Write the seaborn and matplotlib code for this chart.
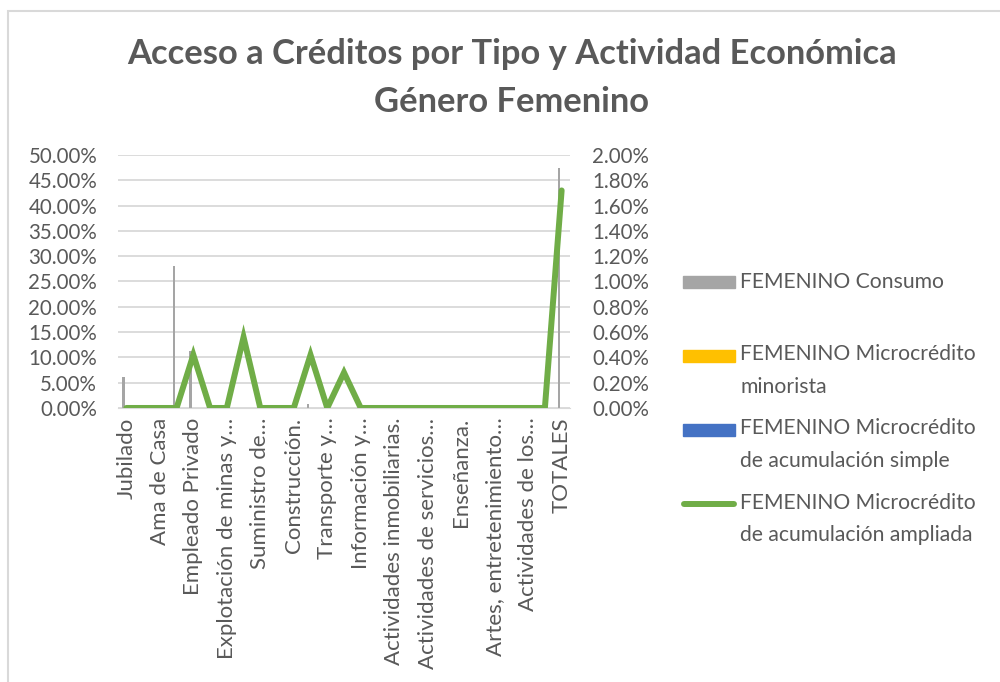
import numpy as np
import pandas as pd
import seaborn as sns
import matplotlib.pyplot as plt
from matplotlib.patches import Rectangle
from matplotlib.lines import Line2D
from matplotlib.ticker import PercentFormatter, MultipleLocator

# categories (only every other one is labelled on the axis)
categorias = [
    "Jubilado", "Estudiante", "Ama de Casa", "Empleado Público", "Empleado Privado",
    "Agricultura, ganadería, silvicultura y pesca.", "Explotación de minas y canteras.",
    "Industrias manufactureras.", "Suministro de electricidad, gas, vapor y aire acondicionado.",
    "Distribución de agua; alcantarillado, gestión de desechos.", "Construcción.",
    "Comercio al por mayor y al por menor.", "Transporte y almacenamiento.",
    "Actividades de alojamiento y de servicio de comidas.", "Información y comunicación.",
    "Actividades financieras y de seguros.", "Actividades inmobiliarias.",
    "Actividades profesionales, científicas y técnicas.",
    "Actividades de servicios administrativos y de apoyo.",
    "Administración pública y defensa.", "Enseñanza.",
    "Actividades de atención de la salud humana.",
    "Artes, entretenimiento y recreación.", "Otras actividades de servicios.",
    "Actividades de los hogares como empleadores.",
    "Actividades de organizaciones extraterritoriales.", "TOTALES",
]
etiquetas = [
    "Jubilado", "Ama de Casa", "Empleado Privado", "Explotación de minas y…",
    "Suministro de…", "Construcción.", "Transporte y…", "Información y…",
    "Actividades inmobiliarias.", "Actividades de servicios…", "Enseñanza.",
    "Artes, entretenimiento…", "Actividades de los…", "TOTALES",
]

# values in percent
consumo = [6.1, 0, 0, 28.0, 11.3, 0, 0, 0, 0, 0, 0, 0.8, 0, 0, 0, 0, 0, 0,
           0, 0, 0, 0, 0, 0, 0, 0, 47.4]
minorista = [0] * 27
simple = [0] * 27
ampliada = [0, 0, 0, 0, 0.42, 0, 0, 0.56, 0, 0, 0, 0.42, 0, 0.28, 0, 0, 0, 0,
            0, 0, 0, 0, 0, 0, 0, 0, 1.72]

series = ["FEMENINO Consumo", "FEMENINO Microcrédito minorista",
          "FEMENINO Microcrédito de acumulación simple"]
colores = ["#a5a5a5", "#ffc000", "#4472c4"]
verde = "#70ad47"
gris_txt = "#595959"

df = pd.DataFrame({
    "categoria": categorias * 3,
    "valor": consumo + minorista + simple,
    "serie": [series[0]] * 27 + [series[1]] * 27 + [series[2]] * 27,
})
df_linea = pd.DataFrame({"pos": np.arange(len(categorias)), "valor": ampliada})

sns.set_style("white")
plt.rcParams["font.family"] = ["Lato", "DejaVu Sans"]

fig = plt.figure(figsize=(10, 6.82), dpi=100)
ax = fig.add_axes([0.118, 0.4018, 0.452, 0.3709])

sns.barplot(data=df, x="categoria", y="valor", hue="serie", order=categorias,
            hue_order=series, palette=colores, width=0.48, gap=0, saturation=1,
            linewidth=0, legend=False, ax=ax)
ax.set_xlim(-0.5, len(categorias) - 0.5)
ax.set_ylim(0, 50)
ax.yaxis.set_major_locator(MultipleLocator(5))
ax.yaxis.set_major_formatter(PercentFormatter(100, decimals=2))
ax.grid(axis="y", color="#d9d9d9", linewidth=1.3)
ax.set_axisbelow(True)
ax.set_xticks(range(0, len(categorias), 2))
ax.set_xticklabels(etiquetas, rotation=90)
ax.set_xlabel("")
ax.set_ylabel("")
for s in ax.spines.values():
    s.set_visible(False)
ax.spines["bottom"].set_visible(True)
ax.spines["bottom"].set_color("#d9d9d9")
ax.tick_params(axis="both", length=0, colors=gris_txt)
ax.tick_params(axis="y", pad=15, labelsize=14.8)
ax.tick_params(axis="x", pad=7, labelsize=16)

ax2 = ax.twinx()
sns.lineplot(data=df_linea, x="pos", y="valor", color=verde, linewidth=4.3,
             ax=ax2, solid_capstyle="round", solid_joinstyle="miter")
ax2.set_ylim(0, 2)
ax2.yaxis.set_major_locator(MultipleLocator(0.2))
ax2.yaxis.set_major_formatter(PercentFormatter(100, decimals=2))
ax2.set_ylabel("")
for s in ax2.spines.values():
    s.set_visible(False)
ax2.tick_params(axis="y", length=0, labelsize=14.8, colors=gris_txt, pad=16)

fig.text(0.512, 1 - 78 / 682, "Acceso a Créditos por Tipo y Actividad Económica\nGénero Femenino",
         ha="center", va="center", fontsize=24.8, fontweight="bold",
         color=gris_txt, linespacing=1.62)

# legend on the right
H = 682
def fy(py):
    return 1 - py / H

fs_leg = 15.2
ls_leg = 1.8
fig.patches.append(Rectangle((0.683, fy(282) - 6 / H), 0.052, 12 / H,
                             transform=fig.transFigure, color=colores[0]))
fig.text(0.740, fy(282), series[0], va="center", fontsize=fs_leg, color=gris_txt)
fig.patches.append(Rectangle((0.683, fy(356) - 6 / H), 0.052, 12 / H,
                             transform=fig.transFigure, color=colores[1]))
fig.text(0.740, fy(370.5), "FEMENINO Microcrédito\nminorista", va="center",
         fontsize=fs_leg, color=gris_txt, linespacing=ls_leg)
fig.patches.append(Rectangle((0.683, fy(430) - 6 / H), 0.052, 12 / H,
                             transform=fig.transFigure, color=colores[2]))
fig.text(0.740, fy(444.5), "FEMENINO Microcrédito\nde acumulación simple", va="center",
         fontsize=fs_leg, color=gris_txt, linespacing=ls_leg)
fig.lines.append(Line2D([0.684, 0.734], [fy(504), fy(504)], transform=fig.transFigure,
                        color=verde, linewidth=4.3, solid_capstyle="round"))
fig.text(0.740, fy(519), "FEMENINO Microcrédito\nde acumulación ampliada", va="center",
         fontsize=fs_leg, color=gris_txt, linespacing=ls_leg)

# chart border
fig.patches.append(Rectangle((0.008, -0.1), 1.2, 1.1 - 11 / H, transform=fig.transFigure,
                             fill=False, edgecolor="#d9d9d9", linewidth=1.5))

fig.savefig("out.png", dpi=100)
